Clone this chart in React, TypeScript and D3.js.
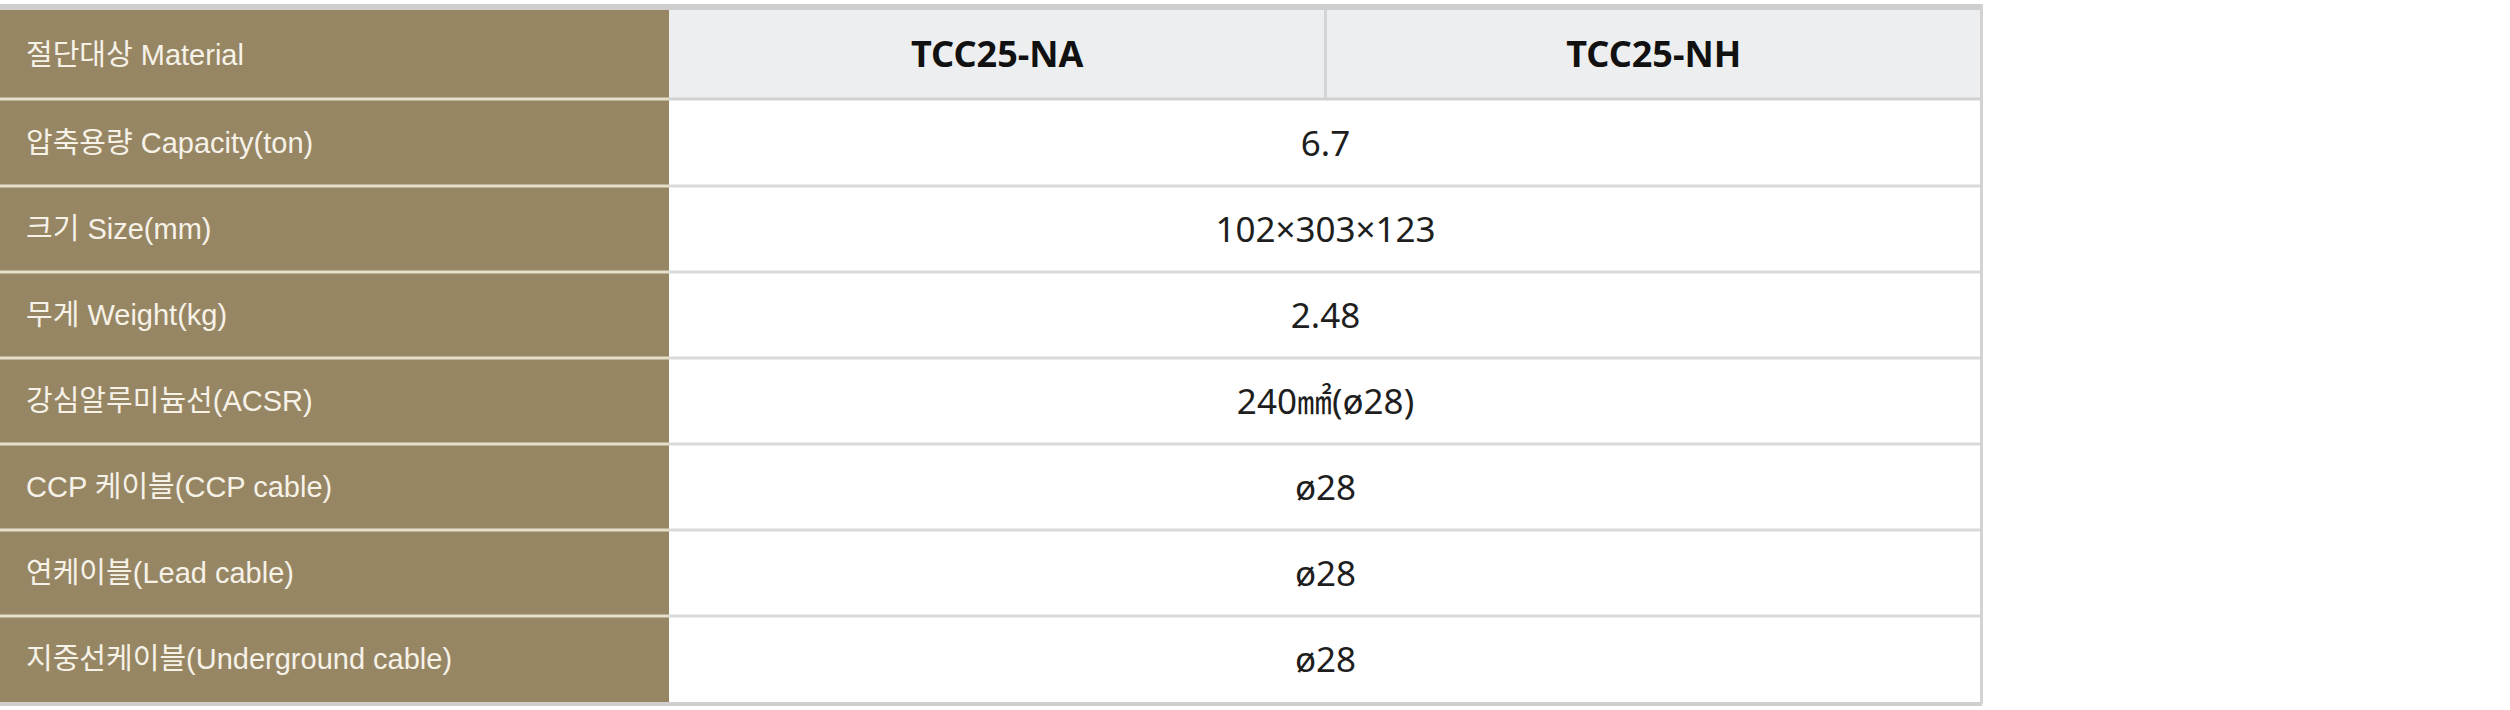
import React from 'react';
import * as d3 from 'd3';

const models = ['TCC25-NA', 'TCC25-NH'];
const rowLabels = [
  '압축용량 Capacity(ton)',
  '크기 Size(mm)',
  '무게 Weight(kg)',
  '강심알루미늄선(ACSR)',
  'CCP 케이블(CCP cable)',
  '연케이블(Lead cable)',
  '지중선케이블(Underground cable)',
];
const rowValues = ['6.7', '102×303×123', '2.48', '240㎟(ø28)', 'ø28', 'ø28', 'ø28'];
const headerLabel = '절단대상 Material';

const W = 2510;
const H = 710;
const labelW = 669;
const tableR = 1982;
const headTop = 10;
const headBottom = 99;
const bodyBottom = 702;

const BROWN = '#978663';
const labelFont = '"Liberation Sans", Arial, "Noto Sans CJK KR", sans-serif';
const valueFont = '"Noto Sans", "Noto Sans CJK KR", sans-serif';

const App: React.FC = () => {
  const y = d3.scaleBand<string>()
    .domain(rowLabels)
    .range([headBottom + 1, bodyBottom]);

  const x = d3.scaleBand<string>()
    .domain(models)
    .range([labelW, tableR]);

  return (
    <svg width={W} height={H} style={{ position: 'absolute', left: 0, top: 0 }}>
      <rect x={0} y={0} width={W} height={H} fill="#fff" />

      {/* header */}
      <rect x={0} y={headTop} width={labelW} height={headBottom - headTop} fill={BROWN} />
      <rect x={labelW} y={headTop} width={tableR - labelW} height={headBottom - headTop} fill="#edeef0" />
      <text x={26} y={(headTop + headBottom) / 2} dy="0.36em" fill="#f6f2e8"
        fontFamily={labelFont} fontSize={29}>{headerLabel}</text>
      {models.map((m) => (
        <text key={m} x={x(m)! + x.bandwidth() / 2} y={(headTop + headBottom) / 2} dy="0.36em"
          textAnchor="middle" fontFamily={valueFont} fontWeight="bold" fontSize={36} fill="#111">{m}</text>
      ))}
      {models.slice(1).map((m) => (
        <rect key={m} x={x(m)! - 1.5} y={headTop} width={3} height={headBottom - headTop} fill="#d3d4d6" />
      ))}

      {/* body */}
      {rowLabels.map((lab, i) => {
        const top = y(lab)!;
        const h = y.bandwidth();
        return (
          <g key={lab}>
            <rect x={0} y={top} width={labelW} height={h} fill={BROWN} />
            <text x={26} y={top + h / 2} dy="0.36em" fill="#f6f2e8"
              fontFamily={labelFont} fontSize={29}>{lab}</text>
            <text x={(labelW + tableR) / 2} y={top + h / 2} dy="0.36em" textAnchor="middle"
              fontFamily={valueFont} fontSize={35} fill="#1e1e1e">{rowValues[i]}</text>
          </g>
        );
      })}

      {/* row separators */}
      {[headBottom, ...rowLabels.slice(1).map((l) => y(l)!)].map((sy, i) => (
        <g key={i}>
          <rect x={0} y={sy - 1.5} width={labelW} height={3} fill="#e6dfc9" />
          <rect x={labelW} y={sy - 1.5} width={tableR - labelW} height={3} fill={i === 0 ? '#d0d1d3' : '#dadada'} />
        </g>
      ))}

      {/* outer borders */}
      <rect x={0} y={4} width={tableR} height={6} fill="#cecece" />
      <rect x={0} y={bodyBottom} width={tableR} height={4} fill="#cfcfcf" />
      <rect x={tableR - 2} y={4} width={3} height={bodyBottom - 2} fill="#d3d3d3" />
    </svg>
  );
};

export default App;
